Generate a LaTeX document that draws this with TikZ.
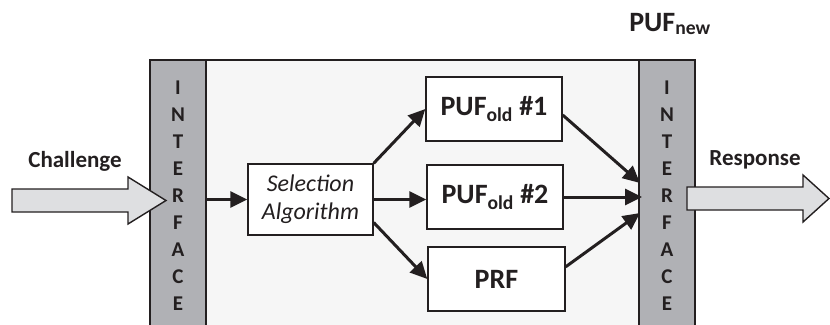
\documentclass[tikz,border=0pt]{standalone}
\usepackage{fontspec}
\setmainfont{Carlito}
\usetikzlibrary{arrows.meta}
\definecolor{inkgray}{RGB}{35,31,32}
\definecolor{stripgray}{RGB}{176,177,181}
\definecolor{panelgray}{RGB}{246,246,246}
\definecolor{blockgray}{RGB}{222,223,225}

\begin{document}
\begin{tikzpicture}[
          x=1pt, y=-1pt,
          unit/.style={rectangle, draw=inkgray, fill=white, line width=1.4pt, minimum width=136pt, minimum height=64pt, inner sep=0pt, font=\fontsize{28}{30}\selectfont\bfseries, text=inkgray},
          iface/.style={rectangle, draw=inkgray, fill=stripgray, line width=1.6pt, minimum width=56pt, minimum height=272pt, inner sep=0pt, align=center, font=\fontsize{21}{27}\selectfont\bfseries, text=inkgray},
          arrow/.style={-{Triangle[length=17pt,width=16pt]}, line width=3pt, draw=inkgray},
          fat/.style={draw=inkgray, fill=blockgray, line width=1.4pt, line join=miter},
          iolabel/.style={font=\fontsize{23}{26}\selectfont\bfseries, text=inkgray}
        ]
          \clip (0,0) rectangle (830,324);
          \draw[line width=1.6pt, draw=inkgray, fill=panelgray] (150,60) rectangle (695,332);

          \node[iface] (ifl) at (178,196) {I\\N\\T\\E\\R\\F\\A\\C\\E};
          \node[iface] (ifr) at (667,196) {I\\N\\T\\E\\R\\F\\A\\C\\E};

          \node[unit, minimum width=125pt, minimum height=71pt, align=center, font=\fontsize{24}{28}\selectfont\itshape] (sel) at (310.5,199.5) {Selection\\Algorithm};
          \node[unit] (puf1) at (494,109) {PUF\textsubscript{old} \#1};
          \node[unit] (puf2) at (495,197) {PUF\textsubscript{old} \#2};
          \node[unit, minimum width=137pt] (prf) at (496.5,279) {PRF};

          \node[iolabel] (chal) at (75,161) {Challenge};
          \node[iolabel] (resp) at (755,160) {Response};
          \node[font=\fontsize{28}{30}\selectfont\bfseries, text=inkgray] (pufnew) at (670,24) {PUF\textsubscript{new}};

          \coordinate (in1) at (640,183);
          \coordinate (in2) at (642,198);
          \coordinate (in3) at (640,213);
          \coordinate (chaltip) at (166,200.5);
          \coordinate (resptip) at (829,198.5);

          \draw[arrow] (ifl.east |- sel.west) -- (sel.west);
          \draw[arrow] (sel.north east) -- (puf1.west);
          \draw[arrow] (sel.east) -- (sel.east -| puf2.west);
          \draw[arrow] (sel.-20) -- (prf.west);
          \draw[arrow] (puf1.-5) -- (in1);
          \draw[arrow] (puf2.east) -- (puf2.east -| in2);
          \draw[arrow] (prf.10) -- (in3);

          \draw[fat] (chaltip) -- ++(-38,-23.5) -- ++(0,12) -- ++(-116,0) -- ++(0,23) -- ++(116,0) -- ++(0,12) -- cycle;
          \draw[fat] (resptip) -- ++(-26,-23.5) -- ++(0,12) -- ++(-116,0) -- ++(0,23) -- ++(116,0) -- ++(0,12) -- cycle;
        \end{tikzpicture}
\end{document}
